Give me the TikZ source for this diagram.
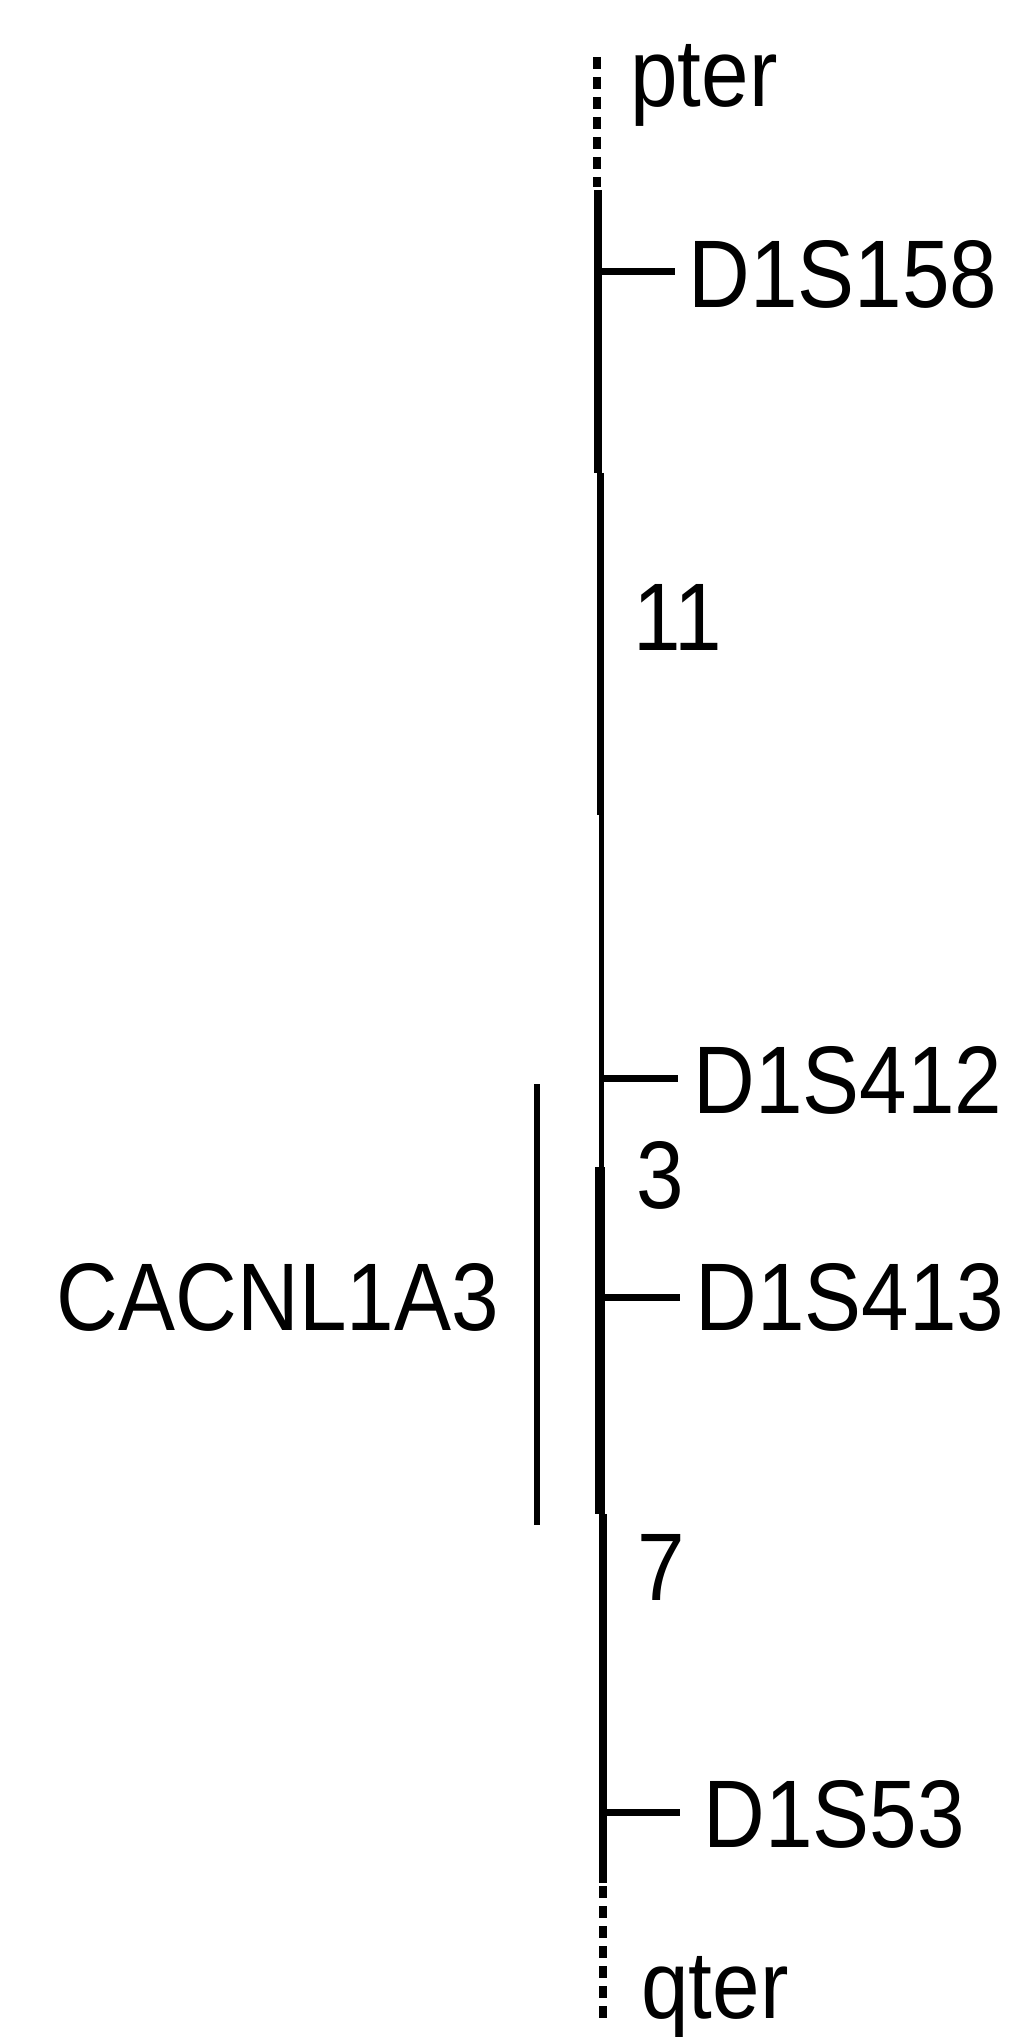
\documentclass[tikz,border=0pt]{standalone}
\usepackage{fontspec}
\newfontfamily\lab{Liberation Sans}[FakeStretch=0.89]
\begin{document}
\begin{tikzpicture}[x=0.5pt,y=-0.5pt,
  lbl/.style={inner sep=0pt, font=\lab\fontsize{48pt}{56pt}\selectfont},
  seg/.style={line cap=butt},
  tickline/.style={line width=3.5pt, line cap=butt},
  dotline/.style={line width=4pt, dash pattern=on 6pt off 4pt},
  bracketline/.style={line width=3pt, line cap=butt}]
\useasboundingbox (0,0) rectangle (1010,2037);
% chromosome
\draw[dotline] (597,57) -- (597,187);
\draw[seg, line width=4pt] (598,190) -- (598,473);
\draw[seg, line width=3.5pt] (600.5,473) -- (600.5,815);
\draw[seg, line width=2.5pt] (601,815) -- (601,1167);
\draw[seg, line width=5pt] (600,1167) -- (600,1514);
\draw[seg, line width=4pt] (603,1514) -- (603,1883);
\draw[dotline] (603,1886) -- (603,2022);
% labels
\node[lbl, anchor=base west] (pter) at (630,107) {pter};
\node[lbl, anchor=base west] (qter) at (641,2018) {qter};
\node[lbl, anchor=base west] (m158) at (688,308) {D1S158};
\node[lbl, anchor=base west] (m412) at (693,1113) {D1S412};
\node[lbl, anchor=base west] (m413) at (695,1330) {D1S413};
\node[lbl, anchor=base west] (m53) at (703,1847) {D1S53};
\node[lbl, anchor=base west] (b11) at (633,650) {11};
\node[lbl, anchor=base west] (b3) at (636,1208) {3};
\node[lbl, anchor=base west] (b7) at (637,1600) {7};
\node[lbl, anchor=base east] (gene) at (499,1330) {CACNL1A3};
% ticks
\coordinate (c158) at (598,272); \coordinate (e158) at (675,272);
\coordinate (c412) at (600,1078); \coordinate (e412) at (678,1078);
\coordinate (c413) at (600,1297); \coordinate (e413) at (680,1297);
\coordinate (c53) at (603,1812); \coordinate (e53) at (680,1812);
\draw[tickline] (c158) -- (e158);
\draw[tickline] (c412) -- (e412);
\draw[tickline] (c413) -- (e413);
\draw[tickline] (c53) -- (e53);
% gene bracket
\coordinate (gtop) at (537,1084); \coordinate (gbot) at (537,1525);
\draw[bracketline] (gtop) -- (gbot);
\end{tikzpicture}
\end{document}
